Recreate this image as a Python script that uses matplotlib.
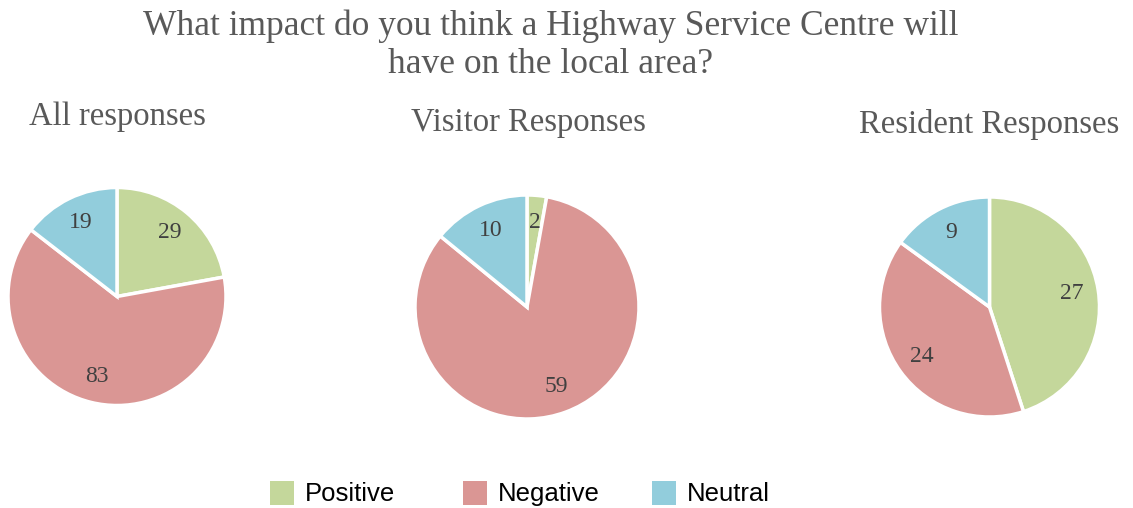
import matplotlib
matplotlib.use("Agg")
import matplotlib.pyplot as plt
from matplotlib.patches import Rectangle

categories = ["Positive", "Negative", "Neutral"]
all_vals = [29, 83, 19]
visitor_vals = [2, 59, 10]
resident_vals = [27, 24, 9]
pie_titles = ["All responses", "Visitor Responses", "Resident Responses"]
title = "What impact do you think a Highway Service Centre will\nhave on the local area?"
colors = ["#C4D79B", "#DA9694", "#92CDDC"]

W, H = 1133, 508
fig = plt.figure(figsize=(W / 100, H / 100), dpi=100)
serif = ["Liberation Serif", "DejaVu Serif"]

fig.text(551 / W, 1 - 45 / H, title, ha="center", va="center", fontsize=25.5,
         color="#595959", family=serif, linespacing=1.2)

# (center x px, center y px from top, radius px, title x, title y)
layout = [(117, 296.5, 109, 117, 117),
          (527, 307, 112, 528, 123),
          (989.5, 307, 110, 989, 125)]

for vals, name, (cx, cy, r, tx, ty) in zip([all_vals, visitor_vals, resident_vals], pie_titles, layout):
    ax = fig.add_axes([(cx - r) / W, (H - cy - r) / H, 2 * r / W, 2 * r / H])
    wedges, texts = ax.pie(vals, colors=colors, startangle=90, counterclock=False, radius=1,
           labels=[str(v) for v in vals], labeldistance=0.76,
           wedgeprops=dict(edgecolor="white", linewidth=2.5),
           textprops=dict(fontsize=17, color="#404040", family=serif, ha="center", va="center"))
    for w in wedges:
        w.set_clip_on(False)
    ax.set_xlim(-1, 1)
    ax.set_ylim(-1, 1)
    ax.axis("off")
    fig.text(tx / W, 1 - ty / H, name, ha="center", va="center", fontsize=23.5,
             color="#595959", family=serif)

# legend
leg_x = [270, 463, 652]
for x, c, lab in zip(leg_x, colors, categories):
    fig.patches.append(Rectangle((x / W, (H - 505) / H), 24 / W, 24 / H, transform=fig.transFigure,
                                 facecolor=c, edgecolor="none"))
    fig.text((x + 35) / W, 1 - 494 / H, lab, ha="left", va="center", fontsize=18.5,
             color="#000000", family=["Liberation Sans", "DejaVu Sans"])

fig.savefig("out.png", dpi=100, facecolor="white")
